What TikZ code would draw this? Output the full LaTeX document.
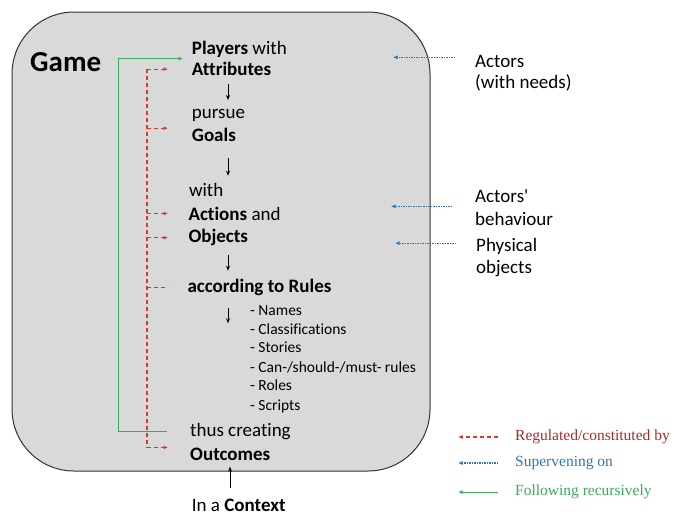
\documentclass[tikz,border=0pt]{standalone}
\usepackage{fontspec}
\setmainfont{Carlito}[Ligatures=NoCommon]
\newfontfamily\legendfont{Liberation Serif}
\usetikzlibrary{arrows.meta}
\definecolor{boxgray}{HTML}{D9D9D9}
\definecolor{regred}{HTML}{E0352B}
\definecolor{regtext}{HTML}{A52A2A}
\definecolor{supblue}{HTML}{2E75B6}
\definecolor{folgreen}{HTML}{3BAA5B}

\begin{document}
\begin{tikzpicture}[x=1pt, y=1pt,
txt/.style={anchor=base west, inner sep=0pt, font=\fontsize{19}{22}\selectfont},
item/.style={anchor=base west, inner sep=0pt, font=\fontsize{15.5}{18}\selectfont},
legend/.style={anchor=west, inner sep=0pt, font=\legendfont\fontsize{15.5}{18}\selectfont},
dn/.style={-{Stealth[length=5pt, width=4pt]}, thick},
tip/.style={-{Latex[length=4.5pt, width=4pt]}},
reg/.style={draw=regred, dash pattern=on 4pt off 3pt, line width=1.2pt},
sup/.style={draw=supblue, dash pattern=on 1.5pt off 1pt, line width=1.1pt, tip},
fol/.style={draw=folgreen, line width=1pt}
]
\useasboundingbox (0,0) rectangle (674,-515);
%Box
\draw[draw=black!80, fill=boxgray, rounded corners=62pt, line width=1pt] (12,-12) rectangle (430,-471);
%Nodes
\node[anchor=base west, inner sep=0pt, font=\fontsize{29}{32}\selectfont\bfseries] (game) at (30,-71.7) {Game};
\node[txt] (pl)    at (191.7,-54)    {\textbf{Players} with};
\node[txt] (att)   at (191.7,-75.7)  {\textbf{Attributes}};
\node[txt] (pur)   at (191.7,-118.3) {pursue};
\node[txt] (goal)  at (191.7,-141.7) {\textbf{Goals}};
\node[txt] (wth)   at (188.8,-196.7) {with};
\node[txt] (act)   at (188.3,-220)   {\textbf{Actions} and};
\node[txt] (obj)   at (188.3,-242.7) {\textbf{Objects}};
\node[txt] (rul)   at (187.3,-292.7) {\textbf{according to Rules}};
\node[item] (l1)   at (250,-315.7)   {- Names};
\node[item] (l2)   at (250,-334.3)   {- Classifications};
\node[item] (l3)   at (250,-352.7)   {- Stories};
\node[item] (l4)   at (250,-372)     {- Can-/should-/must- rules};
\node[item] (l5)   at (250,-390.7)   {- Roles};
\node[item] (l6)   at (250,-410)     {- Scripts};
\node[txt] (thus)  at (190,-436.7)   {thus creating};
\node[txt] (out)   at (190,-460)     {\textbf{Outcomes}};
\node[txt] (ctx)   at (191.7,-511.7) {In a \textbf{Context}};
\node[txt] (actors) at (475,-67.3)   {Actors};
\node[txt] (needs)  at (475,-88.8)   {(with needs)};
\node[txt] (actb)   at (475,-202.7)  {Actors\textquotesingle};
\node[txt] (behav)  at (475,-225)    {behaviour};
\node[txt] (phys)   at (476,-251.7)  {Physical};
\node[txt] (objs)   at (476,-273.3)  {objects};
\node[legend, text=regtext]  (lreg) at (515,-437) {Regulated/constituted by};
\node[legend, text=supblue]  (lsup) at (515,-463) {Supervening on};
\node[legend, text=folgreen] (lfol) at (515,-492) {Following recursively};
\coordinate (ax) at (228,0);
\coordinate (cx) at (230,0);
\coordinate (rx) at (147,0);
\coordinate (tx) at (168,0);
\coordinate (gx) at (118,0);
\coordinate (gs) at (167,0);
\coordinate (gt) at (183,0);
%Lines
\draw[dn, shorten <=8.3pt, shorten >=18.3pt] (att.base -| ax) -- (pur.base -| ax);
\draw[dn, shorten <=16.3pt, shorten >=21pt] (goal.base -| ax) -- (wth.base -| ax);
\draw[dn, shorten <=12.3pt, shorten >=22pt] (obj.base -| ax) -- (rul.base -| ax);
\draw[dn] (rul.base -| ax) ++(0,-15.3) -- ++(0,-15.3);
\draw[dn, shorten <=23.7pt, shorten >=6.7pt] (ctx.base -| cx) -- (out.base -| cx);
%Regulated
\draw[reg] (att.west -| rx) -- (out.north west -| rx);
\draw[reg, tip] (att.west -| rx) -- (att.west -| tx);
\draw[reg, tip] (goal.north west -| rx) -- (goal.north west -| tx);
\draw[reg, tip] (act.west -| rx) -- (act.west -| tx);
\draw[reg, tip] (obj.west -| rx) -- (obj.west -| tx);
\draw[reg] (rul.west -| rx) -- (rul.west -| tx);
\draw[reg, tip] (out.north west -| rx) -- (out.north west -| tx);
%Following
\draw[fol, tip] (thus.west -| gs) -- (thus.west -| gx) -- ([yshift=-1.5pt]pl.south west -| gx) -- ([yshift=-1.5pt]pl.south west -| gt);
%Supervening
\draw[sup] ([xshift=-20pt, yshift=4pt]actors.west) -- ++(-62,0);
\draw[sup] ([xshift=-23pt, yshift=-3.3pt]actb.south west) -- ++(-61,0);
\draw[sup] ([xshift=-20pt, yshift=3.5pt]phys.west) -- ++(-61,0);
%Legend
\draw[reg, tip] ([xshift=-17pt]lreg.west) -- ++(-40,0);
\draw[sup] ([xshift=-17pt]lsup.west) -- ++(-40,0);
\draw[fol, tip] ([xshift=-17pt]lfol.west) -- ++(-40,0);
\end{tikzpicture}
\end{document}
